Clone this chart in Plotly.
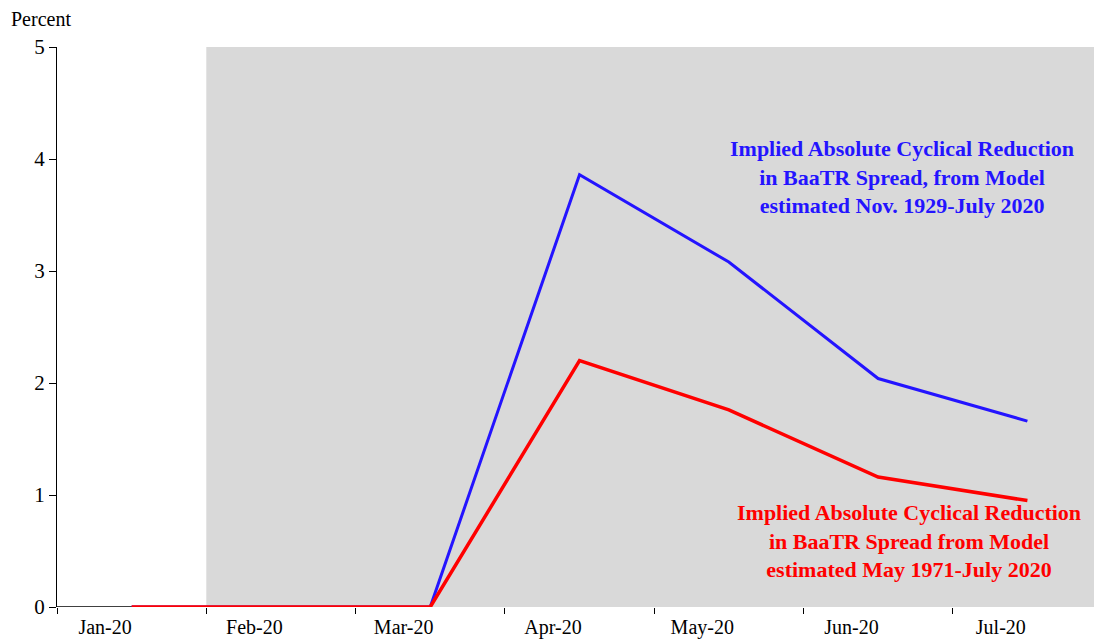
import plotly.graph_objects as go

months = ["Jan-20", "Feb-20", "Mar-20", "Apr-20", "May-20", "Jun-20", "Jul-20"]
blue_vals = [0.0, 0.0, 0.0, 3.86, 3.08, 2.04, 1.66]
red_vals = [0.0, 0.0, 0.0, 2.20, 1.76, 1.16, 0.95]
y_ticks = [0, 1, 2, 3, 4, 5]

xpos = list(range(len(months)))
FONT = "Liberation Serif"
BLUE = "#2414ff"
RED = "#ff0000"
XMAX = 6.446

fig = go.Figure()
fig.add_shape(type="rect", xref="x", yref="y", x0=0.5, x1=XMAX, y0=0, y1=5,
              fillcolor="#d9d9d9", line_width=0, layer="below")
fig.add_shape(type="line", xref="paper", yref="y", x0=0, x1=1, y0=0, y1=0,
              line=dict(color="black", width=1.5), layer="below")
fig.add_trace(go.Scatter(x=xpos, y=blue_vals, mode="lines", cliponaxis=False,
                         line=dict(color=BLUE, width=3), showlegend=False))
fig.add_trace(go.Scatter(x=xpos, y=red_vals, mode="lines", cliponaxis=False,
                         line=dict(color=RED, width=3.5), showlegend=False))

fig.update_layout(
    width=1086, height=632,
    margin=dict(l=49, r=0, t=39, b=33),
    plot_bgcolor="white", paper_bgcolor="white",
    font=dict(family=FONT, color="black"),
    xaxis=dict(range=[-0.5, XMAX], tickmode="array",
               tickvals=[i - 0.178 for i in xpos], ticktext=months,
               ticks="outside", ticklen=0, ticklabelstandoff=2,
               tickfont=dict(size=20, family=FONT),
               showgrid=False, zeroline=False, showline=False,
               minor=dict(tickmode="array", tickvals=[i - 0.5 for i in range(len(months) + 1)],
                          ticks="outside", ticklen=6, tickcolor="black", showgrid=False)),
    yaxis=dict(range=[0, 5], tickmode="array", tickvals=y_ticks,
               ticks="outside", ticklen=7, tickcolor="black",
               tickfont=dict(size=21, family=FONT),
               showgrid=False, zeroline=False, showline=True, linecolor="black", linewidth=1),
)

fig.add_annotation(xref="paper", yref="paper", x=-47/1037, y=1, yshift=28,
                   xanchor="left", yanchor="middle", showarrow=False, borderpad=0,
                   text="Percent", font=dict(size=20, family=FONT))
fig.add_annotation(xref="x", yref="y", x=5.16, y=3.84, xanchor="center", yanchor="middle",
                   showarrow=False,
                   text="<b>Implied Absolute Cyclical Reduction<br>in BaaTR Spread, from Model<br>estimated Nov. 1929-July 2020</b>",
                   font=dict(size=22, family=FONT, color=BLUE))
fig.add_annotation(xref="x", yref="y", x=5.207, y=0.59, xanchor="center", yanchor="middle",
                   showarrow=False,
                   text="<b>Implied Absolute Cyclical Reduction<br>in BaaTR Spread from Model<br>estimated May 1971-July 2020</b>",
                   font=dict(size=22, family=FONT, color=RED))

fig.write_html("out.html")
